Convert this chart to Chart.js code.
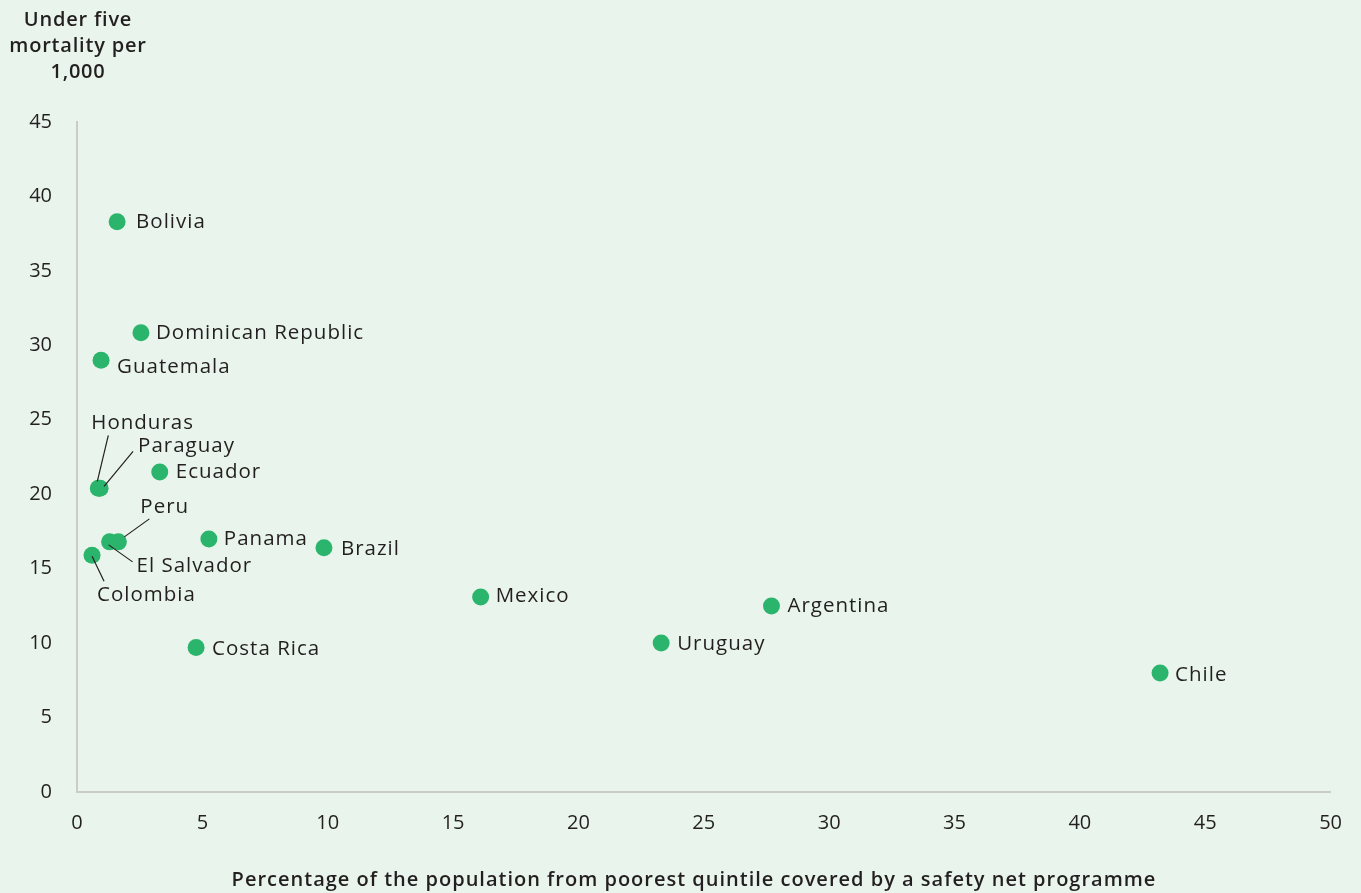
<!DOCTYPE html>
<html>
<head>
<meta charset="utf-8">
<script src="https://cdn.jsdelivr.net/npm/chart.js@4/dist/chart.umd.min.js"></script>
<style>
  html, body { margin: 0; padding: 0; background: #e9f5ec; }
  #wrap { width: 1361px; height: 893px; position: relative; }
</style>
</head>
<body>
<div id="wrap"><canvas id="chart"></canvas></div>
<script>
// Data
const countries = ['Bolivia', 'Dominican Republic', 'Guatemala', 'Honduras', 'Paraguay', 'Ecuador',
  'Peru', 'El Salvador', 'Panama', 'Brazil', 'Colombia', 'Mexico', 'Argentina', 'Uruguay',
  'Costa Rica', 'Chile'];
const coverage = [1.6, 2.55, 0.96, 0.85, 0.92, 3.3, 1.65, 1.3, 5.26, 9.85, 0.6, 16.1, 27.7, 23.3, 4.75, 43.2];
const mortality = [38.3, 30.85, 29.0, 20.4, 20.4, 21.5, 16.8, 16.8, 17.0, 16.4, 15.9, 13.1, 12.5, 10.0, 9.7, 8.0];
const xTicks = [0, 5, 10, 15, 20, 25, 30, 35, 40, 45, 50];
const yTicks = [0, 5, 10, 15, 20, 25, 30, 35, 40, 45];

// Label placement (pixel offsets from the point), with optional leader lines
const labelStyle = {
  'Bolivia': { dx: 19, dy: 0 },
  'Dominican Republic': { dx: 15, dy: 0 },
  'Guatemala': { dx: 16, dy: 7 },
  'Honduras': { dx: -7, dy: -65, line: [10, -53, -1, -7] },
  'Paraguay': { dx: 38, dy: -42, line: [33, -37, 4, -2] },
  'Ecuador': { dx: 16, dy: 0 },
  'Peru': { dx: 22, dy: -35, line: [31, -23, 6, -5] },
  'El Salvador': { dx: 27, dy: 24, line: [23, 20, -1, 3] },
  'Panama': { dx: 15, dy: 0 },
  'Brazil': { dx: 17, dy: 1 },
  'Colombia': { dx: 5, dy: 40, line: [12, 26, 0, 1] },
  'Mexico': { dx: 15, dy: -1 },
  'Argentina': { dx: 16, dy: 0 },
  'Uruguay': { dx: 16, dy: 1 },
  'Costa Rica': { dx: 16, dy: 2 },
  'Chile': { dx: 15, dy: 2 }
};

const textColor = '#231f20';
const fontFamily = "'Open Sans', 'Noto Sans', sans-serif";

const labelsPlugin = {
  id: 'pointLabels',
  afterDatasetsDraw(chart) {
    const ctx = chart.ctx;
    const meta = chart.getDatasetMeta(0);
    ctx.save();
    ctx.font = '500 20.5px ' + fontFamily;
    ctx.letterSpacing = '1px';
    ctx.fillStyle = textColor;
    ctx.textBaseline = 'middle';
    ctx.textAlign = 'left';
    ctx.strokeStyle = '#231f20';
    ctx.lineWidth = 1.2;
    meta.data.forEach((pt, i) => {
      const s = labelStyle[countries[i]];
      if (s.line) {
        ctx.beginPath();
        ctx.moveTo(pt.x + s.line[0], pt.y + s.line[1]);
        ctx.lineTo(pt.x + s.line[2], pt.y + s.line[3]);
        ctx.stroke();
      }
      ctx.fillText(countries[i], pt.x + s.dx, pt.y + s.dy);
    });
    ctx.restore();
  }
};

const titlesPlugin = {
  id: 'axisTitles',
  afterDraw(chart) {
    const ctx = chart.ctx;
    ctx.save();
    ctx.fillStyle = textColor;
    ctx.textAlign = 'center';
    ctx.textBaseline = 'middle';
    ctx.font = '600 20px ' + fontFamily;
    ctx.letterSpacing = '0.8px';
    ['Under five', 'mortality per', '1,000'].forEach((t, i) => {
      ctx.fillText(t, 78, 20 + i * 26);
    });
    ctx.letterSpacing = '1px';
    ctx.fillText('Percentage of the population from poorest quintile covered by a safety net programme',
      694, 880);
    ctx.restore();
  }
};

new Chart(document.getElementById('chart'), {
  type: 'scatter',
  data: {
    datasets: [{
      data: coverage.map((x, i) => ({ x: x, y: mortality[i] })),
      backgroundColor: '#2bb46b',
      borderColor: '#2bb46b',
      pointRadius: 8.5,
      pointHoverRadius: 8.5,
      borderWidth: 0
    }]
  },
  options: {
    responsive: true,
    maintainAspectRatio: false,
    animation: false,
    layout: { padding: { top: 122, right: 30, left: 0, bottom: 0 } },
    plugins: {
      legend: { display: false },
      tooltip: { enabled: false }
    },
    scales: {
      x: {
        type: 'linear',
        min: 0,
        max: 50,
        afterBuildTicks: (s) => { s.ticks = xTicks.map(v => ({ value: v })); },
        afterFit: (s) => { s.height = 101; },
        grid: { display: false, drawTicks: false },
        border: { display: true, color: '#c9cccb', width: 2 },
        ticks: { color: textColor, padding: 19, font: { family: fontFamily, size: 20 } }
      },
      y: {
        type: 'linear',
        min: 0,
        max: 45,
        afterBuildTicks: (s) => { s.ticks = yTicks.map(v => ({ value: v })); },
        afterFit: (s) => { s.width = 77; },
        grid: { display: false, drawTicks: false },
        border: { display: true, color: '#c9cccb', width: 2 },
        ticks: { color: textColor, padding: 25, font: { family: fontFamily, size: 20 } }
      }
    }
  },
  plugins: [labelsPlugin, titlesPlugin]
});
</script>
</body>
</html>
